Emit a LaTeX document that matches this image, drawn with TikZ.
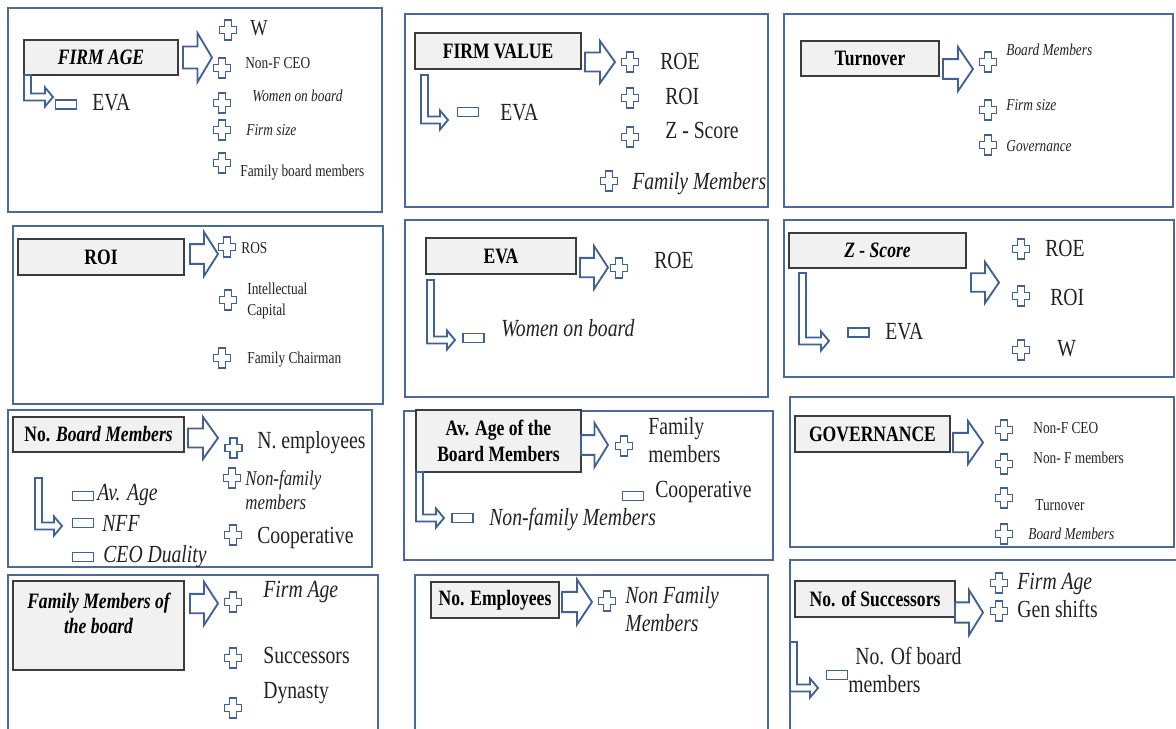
\documentclass[tikz,border=0pt]{standalone}
\usepackage{fontspec}
\setmainfont{Liberation Serif}[FakeStretch=0.8]
\definecolor{panelblue}{HTML}{4A6A9C}
\definecolor{signblue}{HTML}{3F6197}
\definecolor{headgray}{HTML}{F1F1F1}
\definecolor{headline}{HTML}{3C3C3C}
\definecolor{itemtext}{HTML}{222222}
\tikzstyle{panel}=[draw=panelblue, line width=1.1pt]
\tikzstyle{signline}=[draw=signblue, fill=white, line width=1.05pt]
\tikzstyle{header}=[draw=headline, fill=headgray, line width=0.7pt, inner sep=0pt, align=center, text=black, font=\bfseries\fontsize{12.5}{14.5}\selectfont]
\tikzstyle{headit}=[header, font=\bfseries\itshape\fontsize{12.5}{14.5}\selectfont]
\tikzstyle{bigitem}=[anchor=west, inner sep=0pt, align=left, text=itemtext, font=\fontsize{14}{16}\selectfont, text height=9.3pt, text depth=0pt]
\tikzstyle{miditem}=[bigitem, font=\fontsize{12}{13.8}\selectfont, text height=8pt]
\tikzstyle{smallitem}=[bigitem, font=\fontsize{9.5}{11.5}\selectfont, text height=6.3pt]
\tikzstyle{twolines}=[text height={}, text depth={}]
\tikzset{hsize/.style 2 args={minimum width=#1*0.02cm, minimum height=#2*0.02cm}}
% block arrow: left x, tip x, middle y, half height
\newcommand{\bigArrow}[4]{
	\draw[signline] (#1,#3-0.45*#4) -- ({(#1+#2)/2},#3-0.45*#4) -- ({(#1+#2)/2},#3-#4) -- (#2,#3) -- ({(#1+#2)/2},#3+#4) -- ({(#1+#2)/2},#3+0.45*#4) -- (#1,#3+0.45*#4) -- cycle;
}
\newcommand{\plusSign}[2]{
	\draw[signline] (#1-3.5,#2-10) -- (#1+3.5,#2-10) -- (#1+3.5,#2-3.5) -- (#1+8.5,#2-3.5) -- (#1+8.5,#2+3.5) -- (#1+3.5,#2+3.5) -- (#1+3.5,#2+10) -- (#1-3.5,#2+10) -- (#1-3.5,#2+3.5) -- (#1-8.5,#2+3.5) -- (#1-8.5,#2-3.5) -- (#1-3.5,#2-3.5) -- cycle;
}
\newcommand{\minusSign}[2]{
	\draw[signline] (#1-10.5,#2-4.5) rectangle (#1+10.5,#2+4.5);
}
% elbow arrow: left x, top y, tip x, middle y
\newcommand{\elbowArrow}[4]{
	\draw[signline] (#1,#2) -- (#1,#4+3.5) -- (#3-8,#4+3.5) -- (#3-8,#4+9.5) -- (#3,#4) -- (#3-8,#4-9.5) -- (#3-8,#4-3.5) -- (#1+7,#4-3.5) -- (#1+7,#2) -- cycle;
}
\begin{document}
\begin{tikzpicture}[x=0.02cm, y=-0.02cm]
	\useasboundingbox (0,0) rectangle (1176,728);
	\clip (0,0) rectangle (1176,728);
	% panels
	\draw[panel] (8,8) rectangle (382,212);
	\draw[panel] (405,14) rectangle (768,207);
	\draw[panel] (784,14) rectangle (1173,207);
	\draw[panel] (13,226) rectangle (383,404);
	\draw[panel] (405,220) rectangle (768,397);
	\draw[panel] (784,220) rectangle (1174,377);
	\draw[panel] (8,410) rectangle (372,567);
	\draw[panel] (404,411) rectangle (773,560);
	\draw[panel] (790,397) rectangle (1174,547);
	\draw[panel] (8,575) rectangle (378,740);
	\draw[panel] (415,575) rectangle (768,740);
	\draw[panel] (790,560) rectangle (1185,740);
	% FIRM AGE
	\node[headit, hsize={154}{35}] (ageHead) at (101,57.5) {FIRM AGE};
	\bigArrow{183}{212}{57.5}{24.5}
	\elbowArrow{24}{75}{53}{97}
	\minusSign{66}{104.5}
	\node[bigitem] (ageEva) at (92,102) {EVA};
	\plusSign{228}{30}
	\node[bigitem, font=\fontsize{13}{15}\selectfont, text height=8.6pt] (ageW) at (250,27.5) {W};
	\plusSign{222}{68}
	\node[smallitem] (ageCeo) at (245,63) {Non-F CEO};
	\plusSign{222}{103}
	\node[smallitem, font=\itshape\fontsize{9.5}{11.5}\selectfont] (ageWomen) at (252,96) {Women on board};
	\plusSign{222}{130}
	\node[smallitem, font=\itshape\fontsize{9.5}{11.5}\selectfont] (ageSize) at (246,130) {Firm size};
	\plusSign{222}{163}
	\node[smallitem] (ageFamily) at (240,171) {Family board members};
	% FIRM VALUE
	\node[header, hsize={166}{36}] (valueHead) at (498,51) {FIRM VALUE};
	\bigArrow{585}{615}{62}{21}
	\elbowArrow{421}{75}{448}{120}
	\minusSign{468}{112}
	\node[bigitem] (valueEva) at (500,112) {EVA};
	\plusSign{630}{62}
	\node[bigitem] (valueRoe) at (660,61) {ROE};
	\plusSign{630}{98}
	\node[bigitem] (valueRoi) at (665,96) {ROI};
	\plusSign{630}{137}
	\node[bigitem] (valueZ) at (665,130) {Z - Score};
	\plusSign{609}{181}
	\node[bigitem, font=\itshape\fontsize{14}{16}\selectfont] (valueFam) at (632,181) {Family Members};
	% Turnover
	\node[header, hsize={138}{35}] (turnHead) at (870,58.5) {Turnover};
	\bigArrow{943}{973}{69}{22}
	\plusSign{988}{62}
	\node[smallitem, font=\itshape\fontsize{9.5}{11.5}\selectfont] (turnBoard) at (1006,50) {Board Members};
	\plusSign{988}{110}
	\node[smallitem, font=\itshape\fontsize{9.5}{11.5}\selectfont] (turnSize) at (1006,105) {Firm size};
	\plusSign{988}{145}
	\node[smallitem, font=\itshape\fontsize{9.5}{11.5}\selectfont] (turnGov) at (1006,146) {Governance};
	% ROI
	\node[header, hsize={166}{36}] (roiHead) at (101,257) {ROI};
	\bigArrow{190}{218}{254}{22}
	\plusSign{227}{247}
	\node[smallitem] (roiRos) at (241,248) {ROS};
	\plusSign{228}{300}
	\node[smallitem, twolines] (roiCap) at (247,301) {Intellectual\\Capital};
	\plusSign{222}{358}
	\node[smallitem] (roiChair) at (247,358) {Family Chairman};
	% EVA
	\node[header, hsize={150}{36}] (evaHead) at (501,256) {EVA};
	\bigArrow{580}{608}{267.5}{21.5}
	\plusSign{619}{268}
	\node[bigitem] (evaRoe) at (654,260) {ROE};
	\elbowArrow{427}{280}{455}{340}
	\minusSign{473.5}{338}
	\node[bigitem, font=\itshape\fontsize{14}{16}\selectfont] (evaWomen) at (501,328) {Women on board};
	% Z - Score
	\node[headit, hsize={177}{35}] (zHead) at (877.5,250.5) {Z - Score};
	\bigArrow{971}{999}{282.5}{20.5}
	\elbowArrow{799}{273}{829}{341}
	\minusSign{858.5}{332.5}
	\node[bigitem] (zEva) at (885,331) {EVA};
	\plusSign{1021}{249}
	\node[bigitem] (zRoe) at (1045,248) {ROE};
	\plusSign{1021}{296}
	\node[bigitem] (zRoi) at (1050,297) {ROI};
	\plusSign{1021}{350}
	\node[bigitem] (zW) at (1057,348) {W};
	% No. Board Members
	\node[header, hsize={171}{35}] (boardHead) at (98.5,434.5) {No. \textit{Board Members}};
	\bigArrow{188}{218}{438}{21}
	\plusSign{233.5}{448}
	\node[bigitem] (boardEmp) at (257,440) {N. employees};
	\plusSign{232}{478}
	\node[miditem, twolines, font=\itshape\fontsize{12}{13.8}\selectfont] (boardNonFam) at (245,490) {Non-family\\members};
	\plusSign{233}{535}
	\node[bigitem] (boardCoop) at (257,535) {Cooperative};
	\elbowArrow{35}{478}{62}{526}
	\minusSign{83}{496}
	\node[bigitem, font=\itshape\fontsize{14}{16}\selectfont] (boardAge) at (97,492) {Av. Age};
	\minusSign{83}{523}
	\node[bigitem, font=\itshape\fontsize{14}{16}\selectfont] (boardNff) at (102,523) {NFF};
	\minusSign{83}{557}
	\node[bigitem, font=\itshape\fontsize{14}{16}\selectfont] (boardDual) at (103,554) {CEO Duality};
	% Av. Age of the Board Members
	\node[header, hsize={165}{62}] (avHead) at (498.5,441) {Av. Age of the\\Board Members};
	\bigArrow{581}{608}{445}{22}
	\plusSign{624}{446}
	\node[bigitem, twolines] (avFam) at (648,440) {Family\\members};
	\minusSign{633}{496}
	\node[bigitem] (avCoop) at (655,489) {Cooperative};
	\elbowArrow{416}{472}{444}{518}
	\minusSign{462.5}{518}
	\node[bigitem, font=\itshape\fontsize{14}{16}\selectfont] (avNonFam) at (489,517) {Non-family Members};
	% GOVERNANCE
	\node[header, hsize={155}{36}] (govHead) at (872.5,434) {GOVERNANCE};
	\bigArrow{953}{983}{442.5}{21.5}
	\plusSign{1004}{430}
	\node[smallitem] (govCeo) at (1033,428) {Non-F CEO};
	\plusSign{1004}{464}
	\node[smallitem] (govMem) at (1033,458) {Non- F members};
	\plusSign{1004}{498}
	\node[smallitem] (govTurn) at (1035,505) {Turnover};
	\plusSign{1004}{534}
	\node[smallitem, font=\itshape\fontsize{9.5}{11.5}\selectfont] (govBoard) at (1028,534) {Board Members};
	% Family Members of the board
	\node[header, hsize={171}{89}] (famHead) at (98.5,625.5) {};
	\node[headit, draw=none, fill=none] (famText) at (98.5,613.5) {Family Members of\\the board};
	\bigArrow{190}{218}{603.5}{21.5}
	\plusSign{233}{602}
	\node[bigitem, font=\itshape\fontsize{14}{16}\selectfont] (famAge) at (263,589) {Firm Age};
	\plusSign{233}{658}
	\node[bigitem] (famSucc) at (263,655) {Successors};
	\plusSign{233}{708}
	\node[bigitem] (famDyn) at (263,690) {Dynasty};
	% No. Employees
	\node[header, hsize={128}{36}] (empHead) at (495,600) {No. Employees};
	\bigArrow{562}{592}{602}{22.5}
	\plusSign{607}{601}
	\node[bigitem, twolines, font=\itshape\fontsize{14}{16}\selectfont] (empNonFam) at (625,609.5) {Non Family\\Members};
	% No. of Successors
	\node[header, hsize={160}{36}] (succHead) at (875,599) {No. of Successors};
	\bigArrow{955}{983}{612.5}{22.5}
	\plusSign{999}{583}
	\node[bigitem, font=\itshape\fontsize{14}{16}\selectfont] (succAge) at (1017,581) {Firm Age};
	\plusSign{999}{611}
	\node[bigitem] (succGen) at (1017,609) {Gen shifts};
	\elbowArrow{790}{642}{818}{688}
	\minusSign{837}{675}
	\node[bigitem, twolines] (succBoard) at (848,670) {\hspace*{4pt}No. Of board\\members};
\end{tikzpicture}
\end{document}
